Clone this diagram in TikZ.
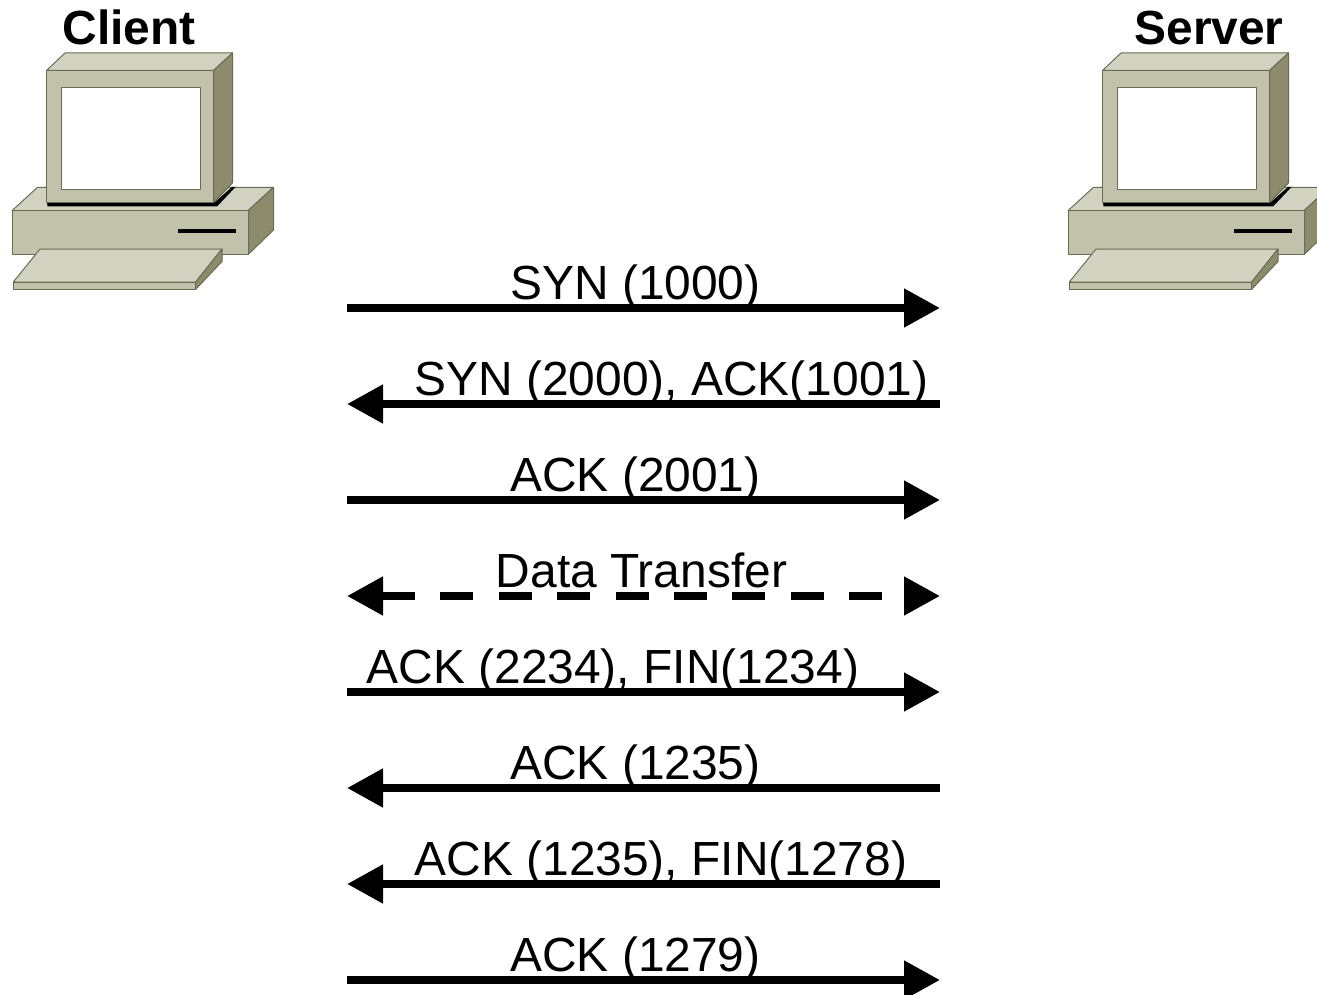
\documentclass[tikz,border=0pt]{standalone}
\usepackage{fontspec}
\setmainfont{Liberation Sans}
\usepackage{tikz}
\usetikzlibrary{arrows.meta}
\definecolor{pcfront}{HTML}{C2C2AB}
\definecolor{pctop}{HTML}{D1D3C0}
\definecolor{pcside}{HTML}{8C8C6C}
\definecolor{pcedge}{HTML}{6B6B55}
\tikzset{
    msg/.style={line width=8pt, -{Triangle[length=36pt, width=37pt]}},
    msgback/.style={line width=8pt, {Triangle[length=36pt, width=37pt]}-},
    msgboth/.style={line width=8pt, {Triangle[length=36pt, width=37pt]}-{Triangle[length=36pt, width=37pt]}, dash pattern=on 33pt off 25.4pt, dash phase=57.4pt},
    msglabel/.style={anchor=base, inner sep=0pt, font=\fontsize{47.9pt}{50pt}\selectfont},
    hostlabel/.style={anchor=base, inner sep=0pt, font=\fontsize{47.9pt}{50pt}\selectfont\bfseries},
    pcpart/.style={draw=pcedge, line width=1pt, line join=round},
    pics/computer/.style={code={
        \draw[pcpart, fill=pctop] (12,210.7) -- (37.5,187.3) -- (273.5,187.3) -- (248,210.7) -- cycle;
        \draw[pcpart, fill=pcside] (248,210.7) -- (273.5,187.3) -- (273.5,230) -- (248,254.7) -- cycle;
        \draw[pcpart, fill=pcfront] (12,210.7) rectangle (248,254.7);
        \fill[black] (178,229.2) rectangle (236,232.8);
        \fill[black] (47,202) -- (215,202) -- (232,187) -- (235.5,187) -- (217,206.5) -- (47.5,206.5) -- cycle;
        \draw[pcpart, fill=pctop] (46.7,70.3) -- (65,53) -- (232.5,53) -- (213.7,70.3) -- cycle;
        \draw[pcpart, fill=pcside] (213.7,70.3) -- (232.5,53) -- (232.5,183) -- (213.7,202.3) -- cycle;
        \draw[pcpart, fill=pcfront] (46.7,70.3) rectangle (213.7,202.3);
        \draw[pcpart, fill=white] (61.3,87.7) rectangle (200.3,189.3);
        \draw[pcpart, fill=pctop] (13.3,282) -- (40,249) -- (222,249) -- (195.7,282) -- cycle;
        \draw[pcpart, fill=pcfront] (13.3,282) rectangle (195.7,289.3);
        \draw[pcpart, fill=pcside] (195.7,282) -- (222,249) -- (222,261.5) -- (195.7,289.3) -- cycle;
    }}
}
\begin{document}
\begin{tikzpicture}[x=1pt, y=-1pt]
    \useasboundingbox (0,0) rectangle (1317,995);

    \pic at (0,0) {computer};
    \pic at (1056,0) {computer};
    \node[hostlabel] (client) at (129,44.5) {Client};
    \node[hostlabel] (server) at (1209,44.5) {Server};

    \foreach \row/\ypos in {1/308, 2/404, 3/500, 4/596, 5/692, 6/788, 7/884, 8/980} {
        \coordinate (left\row) at (347,\ypos);
        \coordinate (right\row) at (940,\ypos);
    }

    \draw[msg] (left1) -- (right1);
    \draw[msgback] (left2) -- (right2);
    \draw[msg] (left3) -- (right3);
    \draw[msgboth] (left4) -- (right4);
    \draw[msg] (left5) -- (right5);
    \draw[msgback] (left6) -- (right6);
    \draw[msgback] (left7) -- (right7);
    \draw[msg] (left8) -- (right8);

    \node[msglabel] (syn) at (635.5,299.3) {SYN (1000)};
    \node[msglabel] (synack) at (671.5,395.3) {SYN (2000), ACK(1001)};
    \node[msglabel] (ack) at (635.5,491.3) {ACK (2001)};
    \node[msglabel] (data) at (641.5,587.3) {Data Transfer};
    \node[msglabel] (ackfin) at (613,683.3) {ACK (2234), FIN(1234)};
    \node[msglabel] (ackone) at (635.5,779.3) {ACK (1235)};
    \node[msglabel] (acktwo) at (661,875.3) {ACK (1235), FIN(1278)};
    \node[msglabel] (last) at (635.5,971.3) {ACK (1279)};
\end{tikzpicture}
\end{document}
